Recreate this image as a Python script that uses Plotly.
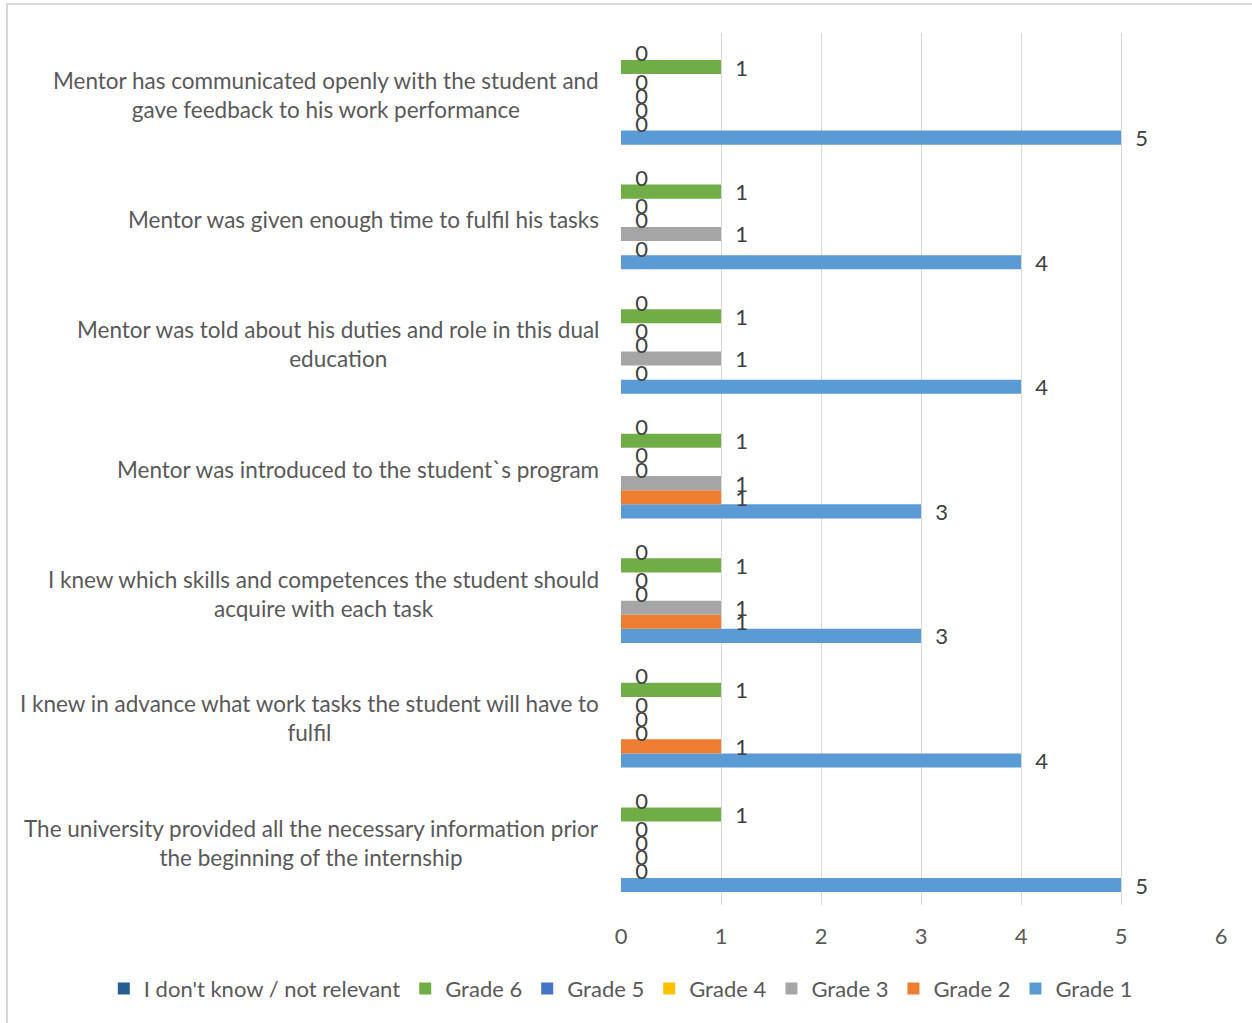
import plotly.graph_objects as go

categories = [
    "The university provided all the necessary information prior<br>the beginning of the internship",
    "I knew in advance what work tasks the student will have to<br>fulfil",
    "I knew which skills and competences the student should<br>acquire with each task",
    "Mentor was introduced to the student`s program",
    "Mentor was told about his duties and role in this dual<br>education",
    "Mentor was given enough time to fulfil his tasks",
    "Mentor has communicated openly with the student and<br>gave feedback to his work performance",
]

grade1 = [5, 4, 3, 3, 4, 4, 5]
grade2 = [0, 1, 1, 1, 0, 0, 0]
grade3 = [0, 0, 1, 1, 1, 1, 0]
grade4 = [0, 0, 0, 0, 0, 0, 0]
grade5 = [0, 0, 0, 0, 0, 0, 0]
grade6 = [1, 1, 1, 1, 1, 1, 1]
dont_know = [0, 0, 0, 0, 0, 0, 0]

series = [
    ("Grade 1", grade1, "#5B9BD5"),
    ("Grade 2", grade2, "#ED7D31"),
    ("Grade 3", grade3, "#A5A5A5"),
    ("Grade 4", grade4, "#FFC000"),
    ("Grade 5", grade5, "#4472C4"),
    ("Grade 6", grade6, "#70AD47"),
    ("I don't know / not relevant", dont_know, "#255E91"),
]

FONT = "Lato, Open Sans, sans-serif"
TXT = "#595959"
FS = 22

fig = go.Figure()
for name, vals, color in series:
    fig.add_trace(go.Bar(
        y=list(range(len(categories))),
        x=vals,
        name=name,
        orientation="h",
        marker=dict(color=color, line=dict(width=0)),
        text=vals,
        texttemplate="\u00a0\u00a0%{x}",
        textposition="outside",
        constraintext="none",
        textfont=dict(family=FONT, size=FS, color="#404040"),
        cliponaxis=False,
    ))

for i, cat in enumerate(categories):
    fig.add_annotation(
        x=0, xref="paper", y=i, yref="y",
        text=cat, showarrow=False, xanchor="right", yanchor="middle",
        align="center", xshift=-20,
        font=dict(family=FONT, size=FS + 0.5, color=TXT),
    )

fig.add_shape(type="rect", xref="paper", yref="paper",
              x0=-1.0233, x1=1.2, y0=-0.3, y1=1.0333,
              line=dict(color="#D9D9D9", width=2), layer="below")

fig.update_layout(
    width=1252, height=1023,
    margin=dict(l=621, r=31, t=33, b=118),
    paper_bgcolor="white", plot_bgcolor="white",
    barmode="group", bargap=0.207, bargroupgap=0,
    font=dict(family=FONT, size=FS, color=TXT),
    showlegend=True,
    legend=dict(orientation="h", traceorder="reversed", x=-0.862, xanchor="left",
                y=-0.072, yanchor="top", font=dict(family=FONT, size=FS, color=TXT),
                itemwidth=30),
    xaxis=dict(range=[0, 6], dtick=1, showgrid=True, gridcolor="#D9D9D9", gridwidth=1,
               zeroline=False, showline=False, ticks="outside", ticklen=12,
               tickcolor="rgba(0,0,0,0)", tickfont=dict(family=FONT, size=FS, color=TXT)),
    yaxis=dict(range=[-0.5, len(categories) - 0.5], showticklabels=False,
               showgrid=False, zeroline=False, showline=False, fixedrange=True),
)

fig.write_html("out.html")
